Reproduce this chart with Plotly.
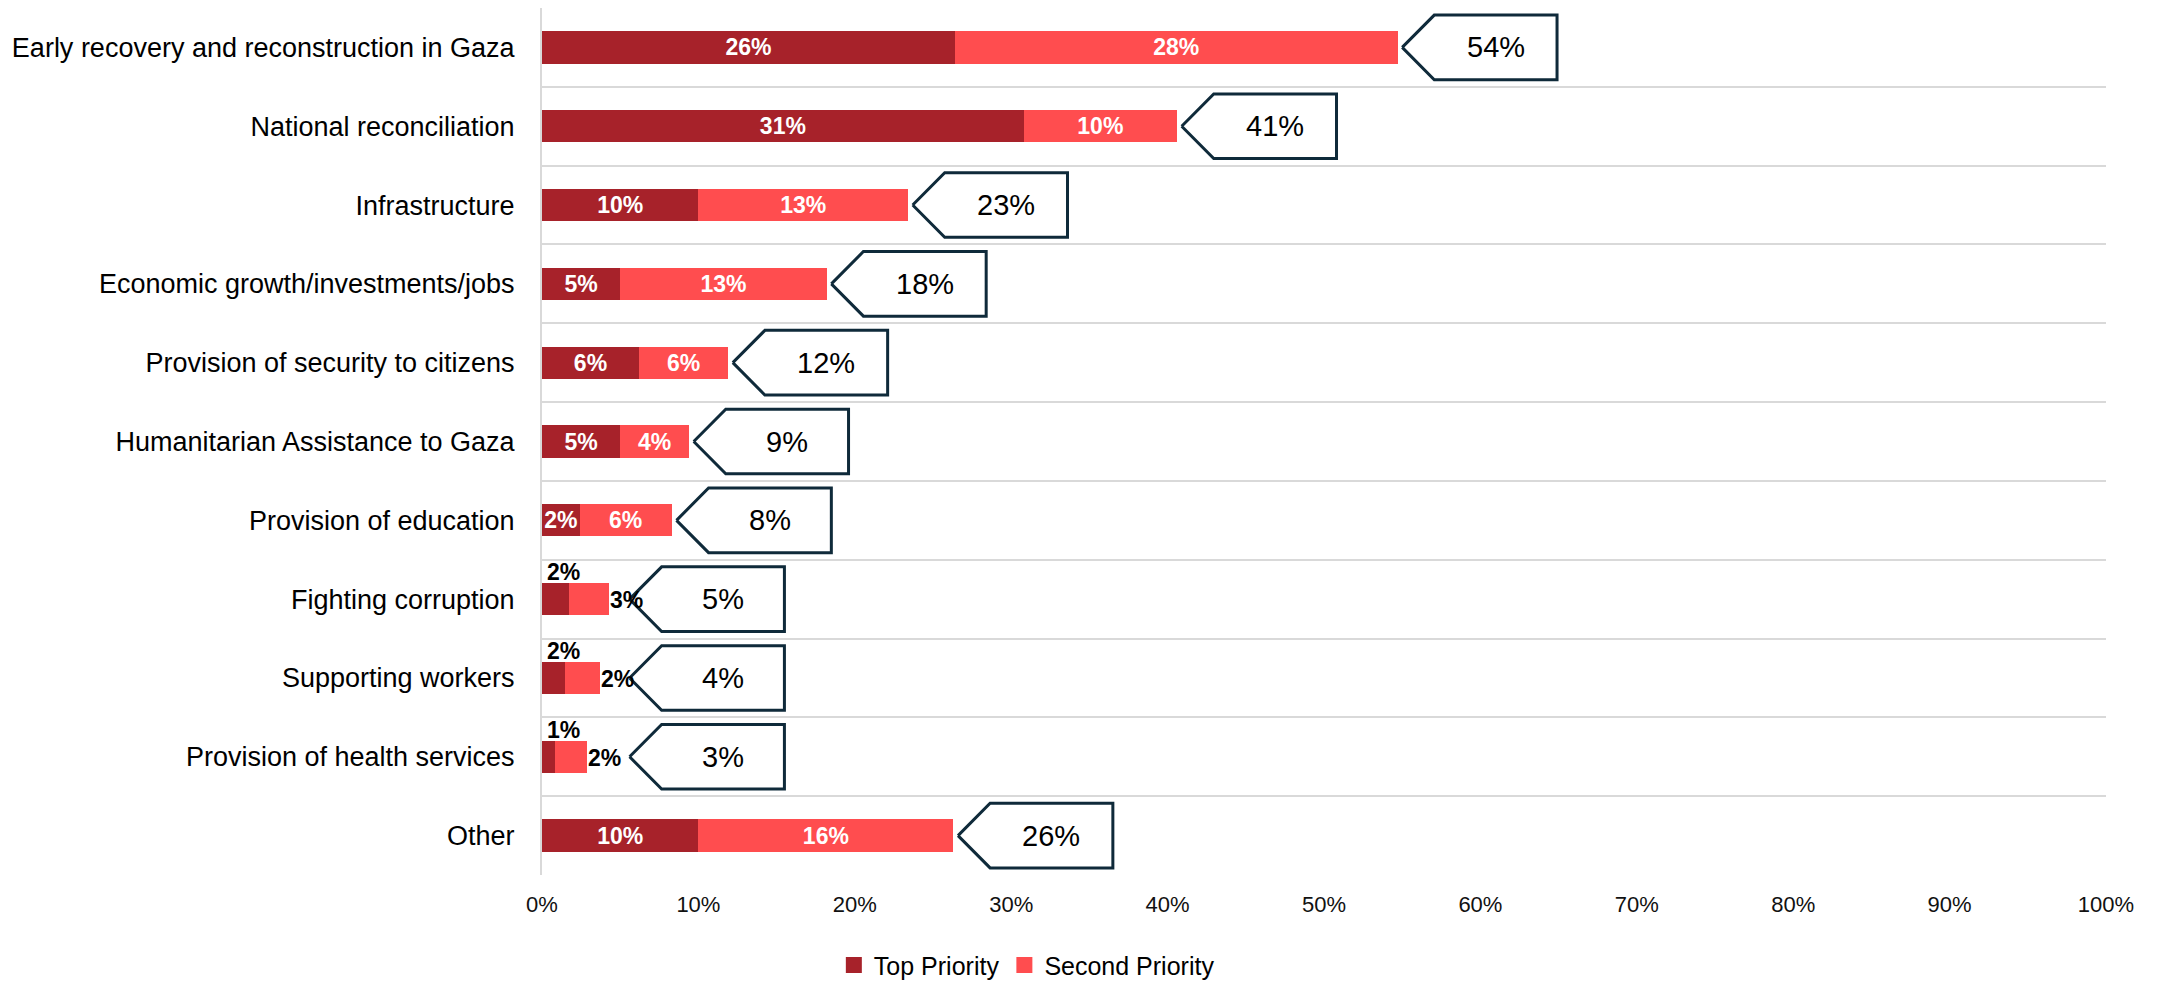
import plotly.graph_objects as go

categories = [
    "Early recovery and reconstruction in Gaza",
    "National reconciliation",
    "Infrastructure",
    "Economic growth/investments/jobs",
    "Provision of security to citizens",
    "Humanitarian Assistance to Gaza",
    "Provision of education",
    "Fighting corruption",
    "Supporting workers",
    "Provision of health services",
    "Other",
]
top_priority = [26.4, 30.8, 10.0, 5.0, 6.2, 5.0, 2.4, 1.7, 1.5, 0.8, 10.0]
second_priority = [28.3, 9.8, 13.4, 13.2, 5.7, 4.4, 5.9, 2.6, 2.2, 2.1, 16.3]
top_labels = ["26%", "31%", "10%", "5%", "6%", "5%", "2%", "2%", "2%", "1%", "10%"]
second_labels = ["28%", "10%", "13%", "13%", "6%", "4%", "6%", "3%", "2%", "2%", "16%"]
total_labels = ["54%", "41%", "23%", "18%", "12%", "9%", "8%", "5%", "4%", "3%", "26%"]
x_ticks = [0, 10, 20, 30, 40, 50, 60, 70, 80, 90, 100]

DARK = "#A7222A"
LIGHT = "#FF4D4F"
NAVY = "#0F2A3A"
GRID = "#D9D9D9"
FONT = "Liberation Sans, Arial, sans-serif"

n = len(categories)
ypos = list(range(n))
small = [t < 2 for t in top_priority]

fig = go.Figure()
for vals, labels, color in ((top_priority, top_labels, DARK), (second_priority, second_labels, LIGHT)):
    fig.add_trace(go.Bar(
        y=ypos, x=vals, orientation="h", showlegend=False,
        marker=dict(color=color, line=dict(width=0)), width=0.41,
        text=["" if s else l for s, l in zip(small, labels)],
        textposition="inside", insidetextanchor="middle",
        textfont=dict(family=FONT, size=23, color="white", weight="bold"),
        hoverinfo="skip",
    ))

# legend entries (square markers)
for name, color in (("Top Priority", DARK), ("Second Priority", LIGHT)):
    fig.add_trace(go.Scatter(
        x=[None], y=[None], mode="markers", name=name,
        marker=dict(symbol="square", size=16, color=color),
    ))

annotations = []
notch = 2.05
box_w = 9.9
half_h = 0.41
for i in range(n):
    total = top_priority[i] + second_priority[i]
    tip = max(total + 0.3, 5.6)
    xs = [tip, tip + notch, tip + box_w, tip + box_w, tip + notch, tip]
    ys = [i, i - half_h, i - half_h, i + half_h, i + half_h, i]
    fig.add_trace(go.Scatter(
        x=xs, y=ys, mode="lines", fill="toself", fillcolor="white",
        line=dict(color=NAVY, width=3), showlegend=False, hoverinfo="skip",
    ))
    annotations.append(dict(
        x=tip + notch + (box_w - notch) / 2, y=i, text=total_labels[i],
        showarrow=False, xanchor="center", yanchor="middle",
        font=dict(family=FONT, size=29, color="black"),
    ))
    if small[i]:
        annotations.append(dict(
            x=0, y=i, text=top_labels[i], showarrow=False,
            xanchor="left", yanchor="middle", xshift=3, yshift=27,
            font=dict(family=FONT, size=23, color="black", weight="bold"),
        ))
        annotations.append(dict(
            x=total, y=i, text=second_labels[i], showarrow=False,
            xanchor="left", yanchor="middle", xshift=-1, yshift=-1,
            font=dict(family=FONT, size=23, color="black", weight="bold"),
        ))

fig.update_layout(
    width=2167, height=989,
    margin=dict(l=542, r=61, t=8, b=114, autoexpand=False),
    barmode="stack",
    uniformtext=dict(mode="show", minsize=23),
    plot_bgcolor="white", paper_bgcolor="white",
    font=dict(family=FONT, color="black"),
    annotations=annotations,
    legend=dict(
        orientation="h", x=0.31, y=-0.104, xanchor="center", yanchor="middle",
        font=dict(family=FONT, size=25, color="black"),
        traceorder="normal", itemwidth=30, borderwidth=0,
    ),
    xaxis=dict(
        range=[0, 100], tickvals=x_ticks, ticktext=[f"{v}%" for v in x_ticks],
        showgrid=False, zeroline=False, showline=False, ticks="",
        tickfont=dict(family=FONT, size=22, color="#111111"),
        ticklabelstandoff=14, fixedrange=True, automargin=False,
    ),
    yaxis=dict(
        range=[n - 0.5, -0.5], tickvals=ypos, ticktext=categories,
        showgrid=False, zeroline=False, showline=True, linecolor=GRID, linewidth=2,
        ticks="", ticklabelstandoff=20, automargin=False,
        tickfont=dict(family=FONT, size=27, color="black"),
        minor=dict(tickvals=[i - 0.5 for i in range(n + 1)], showgrid=True,
                   gridcolor=GRID, gridwidth=2, ticks=""),
        fixedrange=True,
    ),
)

fig.write_html(
    "out.html",
    config={"displayModeBar": False},
    post_script="document.body.style.margin='0px';",
)
